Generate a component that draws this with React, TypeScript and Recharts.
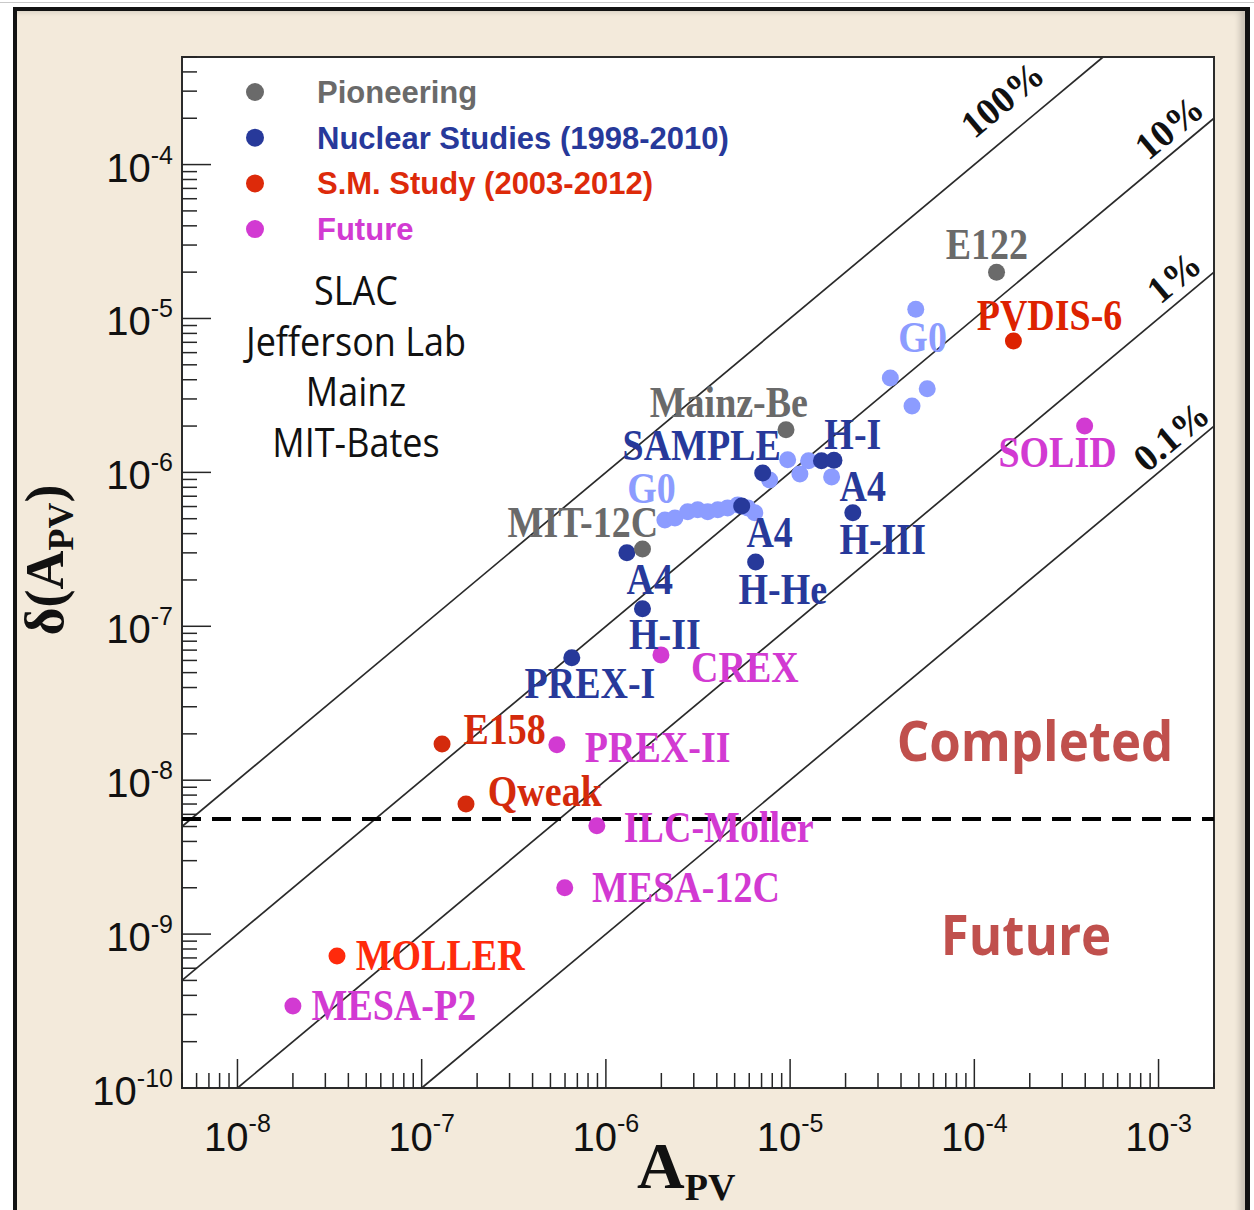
import React from 'react';
import {
  ScatterChart,
  Scatter,
  XAxis,
  YAxis,
  ReferenceLine,
  ReferenceArea,
  CartesianGrid,
} from 'recharts';

// ---------------- data ----------------
const xDomain: [number, number] = [5e-9, 2e-3];
const yDomain: [number, number] = [1e-10, 5e-4];
const xDecadeExps = [-8, -7, -6, -5, -4, -3];
const yDecadeExps = [-10, -9, -8, -7, -6, -5, -4];

const pioneering = [
  { name: 'E122', a: 1.32e-4, d: 2.0e-5 },
  { name: 'Mainz-Be', a: 9.5e-6, d: 1.89e-6 },
  { name: 'MIT-12C', a: 1.58e-6, d: 3.18e-7 },
];

const nuclearG0 = [
  { name: 'G0', a: 2.09e-6, d: 4.91e-7 },
  { name: 'G0', a: 2.37e-6, d: 5.06e-7 },
  { name: 'G0', a: 2.78e-6, d: 5.54e-7 },
  { name: 'G0', a: 3.15e-6, d: 5.71e-7 },
  { name: 'G0', a: 3.57e-6, d: 5.54e-7 },
  { name: 'G0', a: 4.05e-6, d: 5.71e-7 },
  { name: 'G0', a: 4.58e-6, d: 5.88e-7 },
  { name: 'G0', a: 5.2e-6, d: 6.15e-7 },
  { name: 'G0', a: 5.89e-6, d: 5.88e-7 },
  { name: 'G0', a: 6.43e-6, d: 5.46e-7 },
  { name: 'G0', a: 7.74e-6, d: 8.93e-7 },
  { name: 'G0', a: 9.7e-6, d: 1.21e-6 },
  { name: 'G0', a: 1.13e-5, d: 9.77e-7 },
  { name: 'G0', a: 1.26e-5, d: 1.19e-6 },
  { name: 'G0', a: 1.68e-5, d: 9.35e-7 },
  { name: 'G0', a: 3.5e-5, d: 4.11e-6 },
  { name: 'G0', a: 4.59e-5, d: 2.7e-6 },
  { name: 'G0', a: 5.55e-5, d: 3.49e-6 },
  { name: 'G0', a: 4.81e-5, d: 1.15e-5 },
];

const nuclear = [
  { name: 'SAMPLE', a: 7.1e-6, d: 9.9e-7 },
  { name: 'H-I', a: 1.48e-5, d: 1.19e-6 },
  { name: 'H-I', a: 1.73e-5, d: 1.2e-6 },
  { name: 'A4 H-III', a: 2.19e-5, d: 5.46e-7 },
  { name: 'A4', a: 5.46e-6, d: 6.05e-7 },
  { name: 'H-He', a: 6.5e-6, d: 2.62e-7 },
  { name: 'SAMPLE-D', a: 1.3e-6, d: 3.0e-7 },
  { name: 'A4 H-II', a: 1.58e-6, d: 1.3e-7 },
  { name: 'PREX-I', a: 6.53e-7, d: 6.24e-8 },
];

const smStudy = [
  { name: 'PVDIS-6', a: 1.63e-4, d: 7.15e-6 },
  { name: 'E158', a: 1.29e-7, d: 1.72e-8 },
  { name: 'Qweak', a: 1.74e-7, d: 7.0e-9 },
  { name: 'MOLLER', a: 3.47e-8, d: 7.2e-10 },
];

const future = [
  { name: 'SOLID', a: 3.97e-4, d: 2.0e-6 },
  { name: 'CREX', a: 1.99e-6, d: 6.52e-8 },
  { name: 'PREX-II', a: 5.42e-7, d: 1.7e-8 },
  { name: 'ILC-Moller', a: 8.93e-7, d: 5.05e-9 },
  { name: 'MESA-12C', a: 5.98e-7, d: 2.0e-9 },
  { name: 'MESA-P2', a: 2.0e-8, d: 3.41e-10 },
];

// precision lines: delta(A) = ratio * A
const precisionRatios = [1, 0.1, 0.01, 0.001];
const completedBoundary = 5.6e-9;

const legendNames = [
  'Pioneering',
  'Nuclear Studies (1998-2010)',
  'S.M. Study (2003-2012)',
  'Future',
];
const labNames = ['SLAC', 'Jefferson Lab', 'Mainz', 'MIT-Bates'];
const regionNames = ['Completed', 'Future'];

// annotation text anchored in data coordinates
const pointLabels = [
  { text: 'E122', a: 1.17e-4, d: 3.01e-5, group: 'pioneer' },
  { text: 'Mainz-Be', a: 4.65e-6, d: 2.83e-6, group: 'pioneer' },
  { text: 'MIT-12C', a: 7.5e-7, d: 4.7e-7, group: 'pioneer' },
  { text: 'SAMPLE', a: 3.31e-6, d: 1.49e-6, group: 'nuclear' },
  { text: 'H-I', a: 2.19e-5, d: 1.75e-6, group: 'nuclear' },
  { text: 'G0', a: 1.77e-6, d: 7.82e-7, group: 'g0' },
  { text: 'G0', a: 5.24e-5, d: 7.48e-6, group: 'g0' },
  { text: 'A4', a: 2.48e-5, d: 8.05e-7, group: 'nuclear' },
  { text: 'H-III', a: 3.18e-5, d: 3.64e-7, group: 'nuclear' },
  { text: 'A4', a: 7.74e-6, d: 4.05e-7, group: 'nuclear' },
  { text: 'H-He', a: 9.12e-6, d: 1.73e-7, group: 'nuclear' },
  { text: 'A4', a: 1.73e-6, d: 2.0e-7, group: 'nuclear' },
  { text: 'H-II', a: 2.09e-6, d: 8.79e-8, group: 'nuclear' },
  { text: 'PREX-I', a: 8.19e-7, d: 4.23e-8, group: 'nuclear' },
  { text: 'CREX', a: 5.68e-6, d: 5.37e-8, group: 'future' },
  { text: 'PVDIS-6', a: 2.56e-4, d: 1.04e-5, group: 'sm' },
  { text: 'SOLID', a: 2.83e-4, d: 1.34e-6, group: 'future' },
  { text: 'E158', a: 2.82e-7, d: 2.12e-8, group: 'sm' },
  { text: 'PREX-II', a: 1.91e-6, d: 1.62e-8, group: 'future' },
  { text: 'Qweak', a: 4.66e-7, d: 8.4e-9, group: 'sm' },
  { text: 'ILC-Moller', a: 4.1e-6, d: 4.9e-9, group: 'future' },
  { text: 'MESA-12C', a: 2.72e-6, d: 2.0e-9, group: 'future' },
  { text: 'MOLLER', a: 1.26e-7, d: 7.22e-10, group: 'moller' },
  { text: 'MESA-P2', a: 7.06e-8, d: 3.41e-10, group: 'future' },
  { text: '100%', a: 1.43e-4, d: 2.63e-4, group: 'pct' },
  { text: '10%', a: 1.15e-3, d: 1.73e-4, group: 'pct' },
  { text: '1%', a: 1.22e-3, d: 1.84e-5, group: 'pct' },
  { text: '0.1%', a: 1.18e-3, d: 1.7e-6, group: 'pct' },
];

// ---------------- styles ----------------
const C = {
  pioneer: '#6a6a6a',
  nuclear: '#27399a',
  g0: '#8c9cff',
  sm: '#d42a0c',
  moller: '#ff2a0c',
  future: '#d23ad2',
  pct: '#111111',
};
const legendColors = [C.pioneer, C.nuclear, '#dd2a0a', C.future];
const dotOverride: Record<string, string> = { MOLLER: C.moller, 'PVDIS-6': '#dd2200' };
const labelOverride: Record<string, string> = { 'PVDIS-6': '#dd2200' };

const SERIF = '"Liberation Serif", "Times New Roman", serif';
const SANS = '"Liberation Sans", Arial, sans-serif';
const OPEN = '"Open Sans", "DejaVu Sans", sans-serif';

function buildLogTicks(domain: [number, number]) {
  const out: number[] = [];
  const e0 = Math.floor(Math.log10(domain[0]) + 1e-9);
  const e1 = Math.floor(Math.log10(domain[1]) + 1e-9);
  for (let e = e0; e <= e1; e++) {
    for (let m = 1; m <= 9; m++) {
      const v = m * Math.pow(10, e);
      if (v >= domain[0] * (1 - 1e-9) && v <= domain[1] * (1 + 1e-9)) out.push(v);
    }
  }
  return out;
}
const xTicks = buildLogTicks(xDomain);
const yTicks = buildLogTicks(yDomain);

function decadeOf(v: number): number | null {
  const e = Math.round(Math.log10(v));
  return Math.abs(v / Math.pow(10, e) - 1) < 1e-6 ? e : null;
}

const XTick = (props: any) => {
  const { x, y, payload } = props;
  const e = decadeOf(payload.value);
  const major = e !== null && xDecadeExps.includes(e);
  return (
    <g>
      <line x1={x} x2={x} y1={y} y2={y - (major ? 29 : 15)} stroke="#262626" strokeWidth={1.5} />
      {major && (
        <text x={x} y={y + 63} textAnchor="middle" fontFamily={SANS} fontSize={40} fill="#111">
          10
          <tspan dy={-19} fontSize={25}>
            {String(e)}
          </tspan>
        </text>
      )}
    </g>
  );
};

const YTick = (props: any) => {
  const { x, y, payload } = props;
  const e = decadeOf(payload.value);
  const major = e !== null && yDecadeExps.includes(e);
  return (
    <g>
      <line x1={x} x2={x + (major ? 29 : 15)} y1={y} y2={y} stroke="#262626" strokeWidth={1.5} />
      {major && (
        <text x={x - 9} y={y + 17} textAnchor="end" fontFamily={SANS} fontSize={40} fill="#111">
          10
          <tspan dy={-18} fontSize={25}>
            {String(e)}
          </tspan>
        </text>
      )}
    </g>
  );
};

const dotShape = (color: string) => (p: any) => (
  <circle cx={p.cx} cy={p.cy} r={8.5} fill={dotOverride[p.payload?.name] ?? color} />
);

const LabelShape = (p: any) => {
  const { cx, cy, payload } = p;
  if (cx == null || cy == null) return null;
  const g = payload.group as keyof typeof C;
  const fill = labelOverride[payload.text] ?? C[g];
  if (g === 'pct') {
    return (
      <text
        transform={`translate(${cx},${cy}) rotate(-40)`}
        y={12}
        textAnchor="middle"
        fontFamily={SERIF}
        fontWeight="bold"
        fontSize={38}
        fill={fill}
      >
        {payload.text}
      </text>
    );
  }
  return (
    <text
      transform={`translate(${cx},${cy}) scale(1,1.15)`}
      y={12.5}
      textAnchor="middle"
      fontFamily={SERIF}
      fontWeight="bold"
      fontSize={38}
      fill={fill}
    >
      {payload.text}
    </text>
  );
};

function precisionSegment(r: number) {
  const aStart = Math.max(xDomain[0], yDomain[0] / r);
  const aEnd = Math.min(xDomain[1], yDomain[1] / r);
  return [
    { x: aStart, y: aStart * r },
    { x: aEnd, y: aEnd * r },
  ];
}

export default function App() {
  return (
    <div
      style={{
        position: 'absolute',
        left: 0,
        top: 0,
        width: 1254,
        height: 1210,
        background: '#ffffff',
        overflow: 'hidden',
      }}
    >
      <div style={{ position: 'absolute', left: 0, top: 2, width: 1254, height: 1, background: '#c9c9c9' }} />
      <div
        style={{
          position: 'absolute',
          left: 13,
          top: 7,
          width: 1237,
          height: 1220,
          boxSizing: 'border-box',
          background: '#f3eadb',
          borderLeft: '4px solid #121212',
          borderTop: '4px solid #121212',
          borderRight: '5px solid #121212',
          boxShadow: 'inset -5px 0 6px rgba(0,0,0,0.18)',
        }}
      />
      <div style={{ position: 'absolute', left: 0, top: 0 }}>
        <ScatterChart width={1254} height={1210} margin={{ top: 57, right: 40, bottom: 0, left: 0 }}>
          <CartesianGrid horizontal={false} vertical={false} fill="#ffffff" fillOpacity={1} />
          <XAxis
            dataKey="a"
            type="number"
            scale="log"
            domain={xDomain}
            allowDataOverflow
            ticks={xTicks}
            interval={0}
            tick={(p: any) => <XTick {...p} />}
            tickLine={false}
            axisLine={false}
            tickSize={0}
            tickMargin={0}
            height={122}
          />
          <YAxis
            dataKey="d"
            type="number"
            scale="log"
            domain={yDomain}
            allowDataOverflow
            ticks={yTicks}
            interval={0}
            tick={(p: any) => <YTick {...p} />}
            tickLine={false}
            axisLine={false}
            tickSize={0}
            tickMargin={0}
            width={182}
          />
          <ReferenceArea
            x1={xDomain[0]}
            x2={xDomain[1]}
            y1={yDomain[0]}
            y2={yDomain[1]}
            fill="none"
            fillOpacity={0}
            stroke="#2b2b2b"
            strokeWidth={2}
            ifOverflow="visible"
          />
          {precisionRatios.map((r) => (
            <ReferenceLine
              key={r}
              segment={precisionSegment(r)}
              stroke="#2a2a2a"
              strokeWidth={1.7}
              ifOverflow="visible"
            />
          ))}
          <ReferenceLine
            y={completedBoundary}
            stroke="#000"
            strokeWidth={4}
            strokeDasharray="19 11"
            ifOverflow="visible"
          />
          <Scatter data={nuclearG0} shape={dotShape(C.g0)} isAnimationActive={false} />
          <Scatter data={nuclear} shape={dotShape(C.nuclear)} isAnimationActive={false} />
          <Scatter data={pioneering} shape={dotShape(C.pioneer)} isAnimationActive={false} />
          <Scatter data={smStudy} shape={dotShape(C.sm)} isAnimationActive={false} />
          <Scatter data={future} shape={dotShape(C.future)} isAnimationActive={false} />
          <Scatter data={pointLabels} shape={LabelShape} isAnimationActive={false} />
        </ScatterChart>
      </div>
      <svg
        width={1254}
        height={1210}
        style={{ position: 'absolute', left: 0, top: 0, pointerEvents: 'none' }}
      >
        {legendNames.map((n, i) => (
          <g key={n}>
            <circle cx={255} cy={92 + i * 45.7} r={9} fill={legendColors[i]} />
            <text
              x={317}
              y={92 + i * 45.7 + 11}
              fontFamily={SANS}
              fontWeight="bold"
              fontSize={31}
              fill={legendColors[i]}
            >
              {n}
            </text>
          </g>
        ))}
        {labNames.map((n, i) => (
          <text
            key={n}
            transform={`translate(356,${305 + i * 50.5}) scale(1,1.1)`}
            textAnchor="middle"
            fontFamily={OPEN}
            fontSize={36}
            fill="#111"
          >
            {n}
          </text>
        ))}
        <text
          transform="translate(1035,761) scale(1,1.1)"
          textAnchor="middle"
          fontFamily={OPEN}
          fontWeight="bold"
          fontSize={51}
          fill="#c0504d"
        >
          {regionNames[0]}
        </text>
        <text
          transform="translate(1026,955) scale(1,1.1)"
          textAnchor="middle"
          fontFamily={OPEN}
          fontWeight="bold"
          fontSize={51}
          fill="#c0504d"
        >
          {regionNames[1]}
        </text>
        <text x={637} y={1188} fontFamily={SERIF} fontWeight="bold" fontSize={66} fill="#111">
          A
          <tspan dy={12} fontSize={38}>
            PV
          </tspan>
        </text>
        <text
          transform="translate(63,560) rotate(-90)"
          textAnchor="middle"
          fontFamily={SERIF}
          fontWeight="bold"
          fontSize={54}
          fill="#111"
        >
          δ(A
          <tspan dy={10} fontSize={36}>
            PV
          </tspan>
          <tspan dy={-10} fontSize={54}>
            )
          </tspan>
        </text>
      </svg>
    </div>
  );
}
